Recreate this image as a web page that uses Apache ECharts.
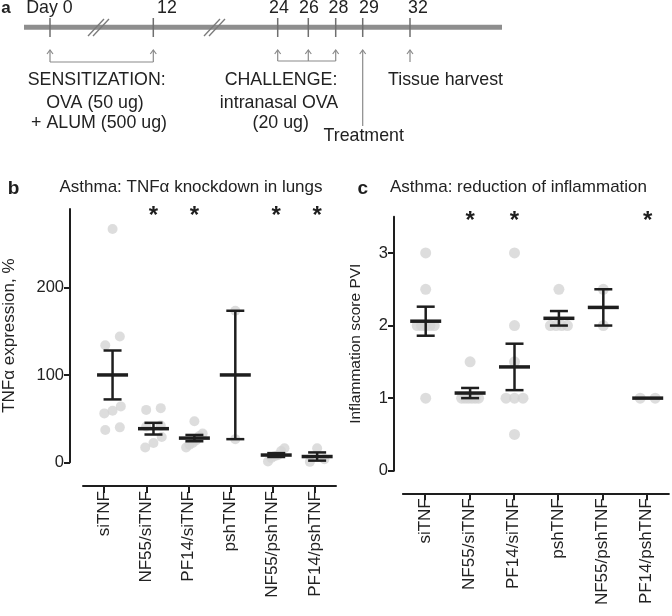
<!DOCTYPE html>
<html><head><meta charset="utf-8">
<script src="https://cdn.jsdelivr.net/npm/echarts@6/dist/echarts.min.js"></script>
<style>html,body{margin:0;padding:0;background:#fff}#c{width:672px;height:616px}</style>
</head><body><div id="c"></div>
<script>
// ---------- data ----------
const categories = ['siTNF','NF55/siTNF','PF14/siTNF','pshTNF','NF55/pshTNF','PF14/pshTNF'];

// panel b: TNFα expression, %
const tnfPoints = [
  [267,134,144,59,56,64,37,40],
  [60,62,29,17,22,41,42],
  [47,33,30,25,22,17,20],
  [173.5,26.5],
  [13,16,1,5,8,7],
  [16,3.5,0.5]
];
const tnfMean = [100, 38.5, 27.7, 100, 8.3, 6.6];
const tnfSem  = [28, 6.7, 3.6, 73.5, 2.2, 4.7];
const tnfSig  = [false, true, true, false, true, true];
const tnfTicks = [0, 100, 200];

// panel c: inflammation score PVI
const pviPoints = [
  [3,2.5,2,2,2,2,2,1],
  [1.5,1,1,1,1,1,1],
  [3,2,1.5,1,1,1,0.5],
  [2.5,2,2,2,2],
  [2.5,2],
  [1,1]
];
const pviMean = [2.06, 1.07, 1.43, 2.1, 2.25, 1.0];
const pviSem  = [0.2, 0.07, 0.32, 0.1, 0.25, 0];
const pviSig  = [false, true, true, false, false, true];
const pviTicks = [0, 1, 2, 3];

// panel a: timeline (schematic positions along the bar)
const timelineLabels = ['Day 0','12','24','26','28','29','32'];
const timelineX = [50, 153.3, 277.7, 308.3, 335.7, 362.7, 410];

// ---------- layout ----------
const FONT = '"Liberation Sans", Arial, Helvetica, sans-serif';
const TXT = '#222';
const INK = '#1e1e1e';
const DOT = '#d4d4d4';
const AF = '17.8px ' + FONT;

const B = {left:62, top:209, width:276, height:253.3, xMin:-1.04, xMax:5.51, yMax:290, dot:10};
const C = {left:394, top:216.7, width:278, height:254, xMin:-0.714, xMax:5.547, yMax:3.5, dot:11};

function swarm(groups, P){
  const pxY = P.height / P.yMax;
  const pxX = P.width / (P.xMax - P.xMin);
  const out = [];
  groups.forEach((vals, ci) => {
    const s = vals.slice().sort((a,b)=>a-b);
    let cl = [];
    const flush = () => {
      const n = cl.length;
      const sp = n === 1 ? 0 : Math.min(15, 17/(n-1));
      cl.forEach((v,k) => out.push([ci + (k-(n-1)/2)*sp/pxX, v]));
      cl = [];
    };
    s.forEach((v,k) => {
      if (k>0 && (v - s[k-1])*pxY >= 0.9*P.dot) flush();
      cl.push(v);
    });
    if (cl.length) flush();
  });
  return out;
}

function barsRender(params, api){
  const i = api.value(0), m = api.value(1), s = api.value(2);
  const c = api.coord([i, m]);
  const ch = [{type:'line', shape:{x1:c[0]-15.5,y1:c[1],x2:c[0]+15.5,y2:c[1]}, style:{stroke:INK,lineWidth:3.5}}];
  if (s > 0) {
    const hi = api.coord([i, m+s]), lo = api.coord([i, m-s]);
    ch.push({type:'line', shape:{x1:c[0],y1:hi[1],x2:c[0],y2:lo[1]}, style:{stroke:INK,lineWidth:2.5}});
    ch.push({type:'line', shape:{x1:c[0]-9,y1:hi[1],x2:c[0]+9,y2:hi[1]}, style:{stroke:INK,lineWidth:2.5}});
    ch.push({type:'line', shape:{x1:c[0]-9,y1:lo[1],x2:c[0]+9,y2:lo[1]}, style:{stroke:INK,lineWidth:2.5}});
  }
  return {type:'group', children:ch};
}
function starRender(yMax, dy){
  return function(params, api){
    const p = api.coord([api.value(0), yMax]);
    return {type:'text', style:{text:'*', x:p[0], y:p[1]+dy, font:'bold 24px '+FONT, fill:INK,
      align:'center', verticalAlign:'middle', textAlign:'center', textVerticalAlign:'middle'}};
  };
}

function timelineRender(params, api){
  const P = (x,y)=>api.coord([x,y]);
  const ch = [];
  const line = (x1,y1,x2,y2,col,w)=>{const a=P(x1,y1),b=P(x2,y2);ch.push({type:'line',shape:{x1:a[0],y1:a[1],x2:b[0],y2:b[1]},style:{stroke:col,lineWidth:w}});};
  const text = (t,x,y,f)=>{const a=P(x,y);ch.push({type:'text',style:{text:t,x:a[0],y:a[1],font:f||AF,fill:TXT,align:'center',verticalAlign:'middle',textAlign:'center',textVerticalAlign:'middle'}});};
  const arrow = (x,y1,y2)=>{line(x,y1,x,y2,'#8a8a8a',1.2);const a=P(x-3,y2+4),b=P(x,y2),c=P(x+3,y2+4);ch.push({type:'polyline',shape:{points:[a,b,c]},style:{stroke:'#8a8a8a',lineWidth:1.2,fill:null}});};
  // bar
  line(24,27.3,502,27.3,'#8e8e8e',5);
  // breaks
  [88,204].forEach(x=>{ line(x,36,x+16,19,'#7a7a7a',1.3); line(x+5,36,x+21,19,'#7a7a7a',1.3); });
  // ticks
  timelineX.forEach(x=> line(x,18,x,37,'#6f6f6f',1.5));
  // tick labels
  const labX = [49.5, 167, 279, 309, 338.5, 369, 418];
  timelineLabels.forEach((t,k)=> text(t, labX[k], 8));
  text('a', 6, 8, 'bold 17px '+FONT);
  // sensitization arrows
  arrow(timelineX[0],62,50); arrow(timelineX[1],62,50); line(timelineX[0],62,timelineX[1],62,'#8a8a8a',1.2);
  // challenge arrows
  arrow(timelineX[2],61,50); arrow(timelineX[3],61,50); arrow(timelineX[4],61,50); line(timelineX[2],61,timelineX[4],61,'#8a8a8a',1.2);
  // treatment and harvest
  arrow(timelineX[5],126,50);
  arrow(timelineX[6],62,50);
  // texts
  text('SENSITIZATION:', 96.7, 80.5);
  text('OVA (50 ug)', 95, 103);
  text('+ ALUM (500 ug)', 99, 123.5);
  text('CHALLENGE:', 281, 80.5);
  text('intranasal OVA', 279, 103);
  text('(20 ug)', 280.7, 123.5);
  text('Tissue harvest', 445.5, 80.5);
  text('Treatment', 363.7, 136);
  return {type:'group', children:ch};
}

const yAxisCommon = (P, ticks, name, nameGap, nameSize) => ({
  type:'value', min:0, max:P.yMax, interval: ticks[1]-ticks[0],
  name, nameLocation:'middle', nameGap, nameRotate:90,
  nameTextStyle:{fontFamily:FONT, fontSize:nameSize, color:TXT},
  axisLine:{show:true, onZero:false, lineStyle:{color:INK, width:2}},
  axisTick:{show:true, length:6, lineStyle:{color:INK, width:2}, customValues:ticks},
  axisLabel:{fontFamily:FONT, fontSize:16.5, color:TXT, margin:6, customValues:ticks},
  splitLine:{show:false}
});
const catAxis = (gi) => ({
  type:'category', gridIndex:gi, data:categories, position:'bottom',
  axisLine:{show:true, lineStyle:{color:INK, width:2}},
  axisTick:{show:true, length:7, alignWithLabel:true, lineStyle:{color:INK, width:2}},
  axisLabel:{rotate:90, fontFamily:FONT, fontSize:17, color:TXT, margin:5, interval:0}
});

const option = {
  animation:false,
  backgroundColor:'#fff',
  grid:[
    {left:B.left, top:B.top, width:B.width, height:B.height},
    {left:83, top:476, width:253, height:10},
    {left:C.left, top:C.top, width:C.width, height:C.height},
    {left:402.9, top:483.3, width:266, height:10},
    {left:0, top:0, width:672, height:180}
  ],
  xAxis:[
    {type:'value', gridIndex:0, min:B.xMin, max:B.xMax, show:false},
    catAxis(1),
    {type:'value', gridIndex:2, min:C.xMin, max:C.xMax, show:false},
    catAxis(3),
    {type:'value', gridIndex:4, min:0, max:672, show:false}
  ],
  yAxis:[
    Object.assign({gridIndex:0}, yAxisCommon(B, tnfTicks, 'TNFα expression, %', 52, 17)),
    {type:'value', gridIndex:1, show:false},
    Object.assign({gridIndex:2}, yAxisCommon(C, pviTicks, 'Inflammation score PVI', 30, 15.5)),
    {type:'value', gridIndex:3, show:false},
    {type:'value', gridIndex:4, min:0, max:180, inverse:true, show:false}
  ],
  graphic:[
    {type:'text', x:13.5, y:189, style:{text:'b', font:'bold 19px '+FONT, fill:INK, textAlign:'center', textVerticalAlign:'middle', align:'center', verticalAlign:'middle'}},
    {type:'text', x:191, y:187, style:{text:'Asthma: TNFα knockdown in lungs', font:'17px '+FONT, fill:TXT, textAlign:'center', textVerticalAlign:'middle', align:'center', verticalAlign:'middle'}},
    {type:'text', x:362.7, y:189, style:{text:'c', font:'bold 19px '+FONT, fill:INK, textAlign:'center', textVerticalAlign:'middle', align:'center', verticalAlign:'middle'}},
    {type:'text', x:518.5, y:187, style:{text:'Asthma: reduction of inflammation', font:'17px '+FONT, fill:TXT, textAlign:'center', textVerticalAlign:'middle', align:'center', verticalAlign:'middle'}}
  ],
  series:[
    {type:'scatter', xAxisIndex:0, yAxisIndex:0, data:swarm(tnfPoints,B), symbolSize:B.dot, itemStyle:{color:DOT}, z:2},
    {type:'custom', xAxisIndex:0, yAxisIndex:0, data:tnfMean.map((m,i)=>[i,m,tnfSem[i]]), renderItem:barsRender, z:3, clip:false},
    {type:'custom', xAxisIndex:0, yAxisIndex:0, data:tnfSig.map((s,i)=>s?[i]:null).filter(Boolean), renderItem:starRender(B.yMax, 7), z:4},
    {type:'scatter', xAxisIndex:2, yAxisIndex:2, data:swarm(pviPoints,C), symbolSize:C.dot, itemStyle:{color:DOT}, z:2},
    {type:'custom', xAxisIndex:2, yAxisIndex:2, data:pviMean.map((m,i)=>[i,m,pviSem[i]]), renderItem:barsRender, z:3, clip:false},
    {type:'custom', xAxisIndex:2, yAxisIndex:2, data:pviSig.map((s,i)=>s?[i]:null).filter(Boolean), renderItem:starRender(C.yMax, 5), z:4},
    {type:'custom', xAxisIndex:4, yAxisIndex:4, data:[[0,0]], renderItem:timelineRender, z:1, clip:false}
  ]
};
const chart = echarts.init(document.getElementById('c'), null, {renderer:'canvas'});
chart.setOption(option);
</script></body></html>
